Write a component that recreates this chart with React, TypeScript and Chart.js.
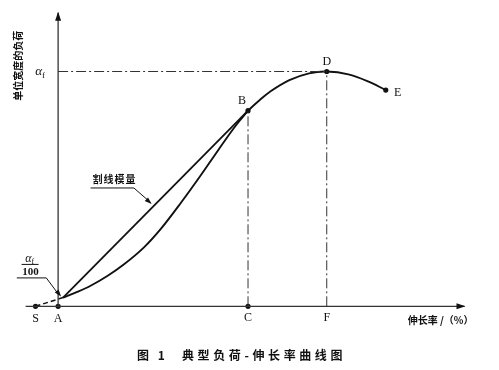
import React, { useEffect, useRef } from "react";
import { Chart, registerables } from "chart.js";
Chart.register(...registerables);

// typical load–elongation curve (x: elongation units, y: load, αf = 100)
const curveX = [0.5, 2.0, 3.3, 5.0, 6.7, 8.7, 10.5, 12.5, 14.5, 16.3, 17.7, 18.6, 19.3, 20.5, 21.5, 23.5, 25.5, 27.3, 29.5, 31.5, 33.3];
const curveY = [3.75, 6.25, 8.75, 12.9, 17.9, 25, 33.3, 44.2, 55.8, 66.7, 75, 79.8, 83.3, 87.9, 91.3, 96.3, 99.2, 100, 98.8, 95.8, 92.1];
const secantX = [0.5, 19.3];
const secantY = [3.75, 83.3];
const extX = [-2.3, 0.5];
const extY = [0, 3.75];
const pointNames = ["S", "A", "C", "B", "D", "E"];
const pointX = [-2.3, 0, 19.3, 19.3, 27.3, 33.3];
const pointY = [0, 0, 0, 83.3, 100, 92.1];
const fLabelX = 27.3;
const peakY = 100;
const xAxisRange = [-3.3, 41.3];
const yAxisTop = 125;
const yTitle = "单位宽度的负荷";
const xTitle = "伸长率 /（%）";
const secantLabel = "割线模量";
const captionNo = "图 1";
const captionText = "典型负荷-伸长率曲线图";

const pts = (xs: number[], ys: number[]) => xs.map((x, i) => ({ x, y: ys[i] }));

export default function App() {
  const ref = useRef<HTMLCanvasElement | null>(null);
  useEffect(() => {
    const canvas = ref.current!;
    const ink = "#111";
    const dashDot = [10, 3, 2, 3];
    const serif = '"Liberation Serif", "DejaVu Serif", serif';
    const cjk = '"Noto Sans CJK SC", sans-serif';

    const arrow = (ctx: CanvasRenderingContext2D, x1: number, y1: number, x2: number, y2: number, len: number, w: number) => {
      const a = Math.atan2(y2 - y1, x2 - x1);
      ctx.beginPath();
      ctx.moveTo(x2, y2);
      ctx.lineTo(x2 - len * Math.cos(a) + w * Math.sin(a), y2 - len * Math.sin(a) - w * Math.cos(a));
      ctx.lineTo(x2 - len * Math.cos(a) - w * Math.sin(a), y2 - len * Math.sin(a) + w * Math.cos(a));
      ctx.closePath();
      ctx.fill();
    };

    const deco = {
      id: "deco",
      afterDatasetsDraw(chart: any) {
        const ctx: CanvasRenderingContext2D = chart.ctx;
        const X = (v: number) => chart.scales.x.getPixelForValue(v);
        const Y = (v: number) => chart.scales.y.getPixelForValue(v);
        ctx.save();
        ctx.fillStyle = ink;
        ctx.strokeStyle = ink;
        // axis arrows
        arrow(ctx, X(0), Y(0), X(0), Y(yAxisTop) - 1, 9, 3);
        arrow(ctx, X(0), Y(0), X(xAxisRange[1]) + 1, Y(0), 9, 3);

        // leader for secant label
        ctx.lineWidth = 1;
        ctx.beginPath();
        ctx.moveTo(X(3.3), Y(50.4));
        ctx.lineTo(X(7.7), Y(50.4));
        ctx.lineTo(X(9.4), Y(44.2));
        ctx.stroke();
        arrow(ctx, X(7.7), Y(50.4), X(9.5), Y(43.6), 7, 2.5);
        // leader for αf/100
        ctx.beginPath();
        ctx.moveTo(X(-4.2), Y(12.1));
        ctx.lineTo(X(-1.2), Y(12.1));
        ctx.lineTo(X(0.1), Y(4.8));
        ctx.stroke();
        arrow(ctx, X(-1.2), Y(12.1), X(0.3), Y(4.2), 7, 2.5);

        // point letters
        ctx.font = `12px ${serif}`;
        ctx.textAlign = "center";
        ctx.textBaseline = "middle";
        const below = Y(0) + 13;
        ctx.fillText("S", X(-2.3), below);
        ctx.fillText("A", X(0), below);
        ctx.fillText("C", X(19.3), below - 1);
        ctx.fillText("F", X(fLabelX), below - 1);
        ctx.fillText("B", X(19.3) - 6, Y(83.3) - 10);
        ctx.fillText("D", X(27.3), Y(100) - 10);
        ctx.fillText("E", X(33.3) + 12, Y(92.1) + 3);

        // αf on y axis
        ctx.font = `italic 13px ${serif}`;
        ctx.textAlign = "right";
        ctx.fillText("α", X(0) - 16, Y(peakY));
        ctx.font = `9px ${serif}`;
        ctx.textAlign = "left";
        ctx.fillText("f", X(0) - 16, Y(peakY) + 4);

        // αf / 100 fraction
        const fx = X(-2.8), fy = Y(12.1);
        ctx.font = `italic 12px ${serif}`;
        ctx.textAlign = "right";
        ctx.fillText("α", fx + 1, fy - 19);
        ctx.font = `8px ${serif}`;
        ctx.textAlign = "left";
        ctx.fillText("f", fx + 1, fy - 16);
        ctx.beginPath();
        ctx.moveTo(fx - 9, fy - 13.5);
        ctx.lineTo(fx + 8, fy - 13.5);
        ctx.stroke();
        ctx.font = `bold 11px ${serif}`;
        ctx.textAlign = "center";
        ctx.fillText("100", fx, fy - 6);

        // texts in CJK
        ctx.font = `bold 10px ${cjk}`;
        ctx.textAlign = "left";
        (ctx as any).letterSpacing = "1px";
        ctx.fillText(secantLabel, X(3.5), Y(50.4) - 9);
        (ctx as any).letterSpacing = "0px";
        ctx.textAlign = "right";
        ctx.fillText(xTitle, X(xAxisRange[1]) + 9, Y(0) + 14);

        ctx.save();
        ctx.translate(18, Y(102.5));
        ctx.rotate(-Math.PI / 2);
        ctx.textAlign = "center";
        ctx.font = `bold 10px ${cjk}`;
        ctx.fillText(yTitle, 0, 0);
        ctx.restore();

        ctx.font = `bold 12px ${cjk}`;
        ctx.textAlign = "left";
        (ctx as any).letterSpacing = "3px";
        ctx.fillText(captionNo, 137, 355);
        (ctx as any).letterSpacing = "3.6px";
        ctx.fillText(captionText, 182, 355);
        (ctx as any).letterSpacing = "0px";
        ctx.restore();
      },
    };

    const lineDs = (data: any[], extra: any = {}) => ({
      data,
      borderColor: ink,
      borderWidth: 1.6,
      pointRadius: 0,
      fill: false,
      ...extra,
    });

    const chart = new Chart(canvas, {
      type: "scatter",
      data: {
        datasets: [
          lineDs(pts(xAxisRange, [0, 0]), { showLine: true, borderWidth: 1.3, borderColor: "#333" }),
          lineDs(pts([0, 0], [0, yAxisTop]), { showLine: true, borderWidth: 1.3, borderColor: "#333" }),
          lineDs(pts([0, fLabelX], [peakY, peakY]), { showLine: true, borderWidth: 1, borderDash: dashDot, borderColor: "#333" }),
          lineDs(pts([19.3, 19.3], [0, 83.3]), { showLine: true, borderWidth: 1, borderDash: dashDot, borderColor: "#333" }),
          lineDs(pts([fLabelX, fLabelX], [0, peakY]), { showLine: true, borderWidth: 1, borderDash: dashDot, borderColor: "#333" }),
          lineDs(pts(extX, extY), { showLine: true, borderWidth: 1.5, borderDash: [5, 3] }),
          lineDs(pts(secantX, secantY), { showLine: true, borderWidth: 1.8 }),
          lineDs(pts(curveX, curveY), { showLine: true, borderWidth: 1.9, tension: 0.35 }),
          {
            data: pts(pointX, pointY),
            showLine: false,
            pointRadius: 2.6,
            pointBackgroundColor: ink,
            pointBorderWidth: 0,
            labels: pointNames,
          } as any,
        ],
      },
      options: {
        animation: false,
        responsive: false,
        layout: { padding: 0 },
        plugins: { legend: { display: false }, tooltip: { enabled: false } },
        scales: {
          x: { type: "linear", min: -5.5, max: 44.4, display: false },
          y: { type: "linear", min: -25.4167, max: 128.75, display: false },
        },
      },
      plugins: [deco],
    } as any);
    return () => chart.destroy();
  }, []);

  return (
    <div style={{ position: "fixed", left: 0, top: 0, width: 499, height: 370, background: "#fff" }}>
      <canvas ref={ref} width={499} height={370} style={{ width: 499, height: 370, display: "block" }} />
    </div>
  );
}
